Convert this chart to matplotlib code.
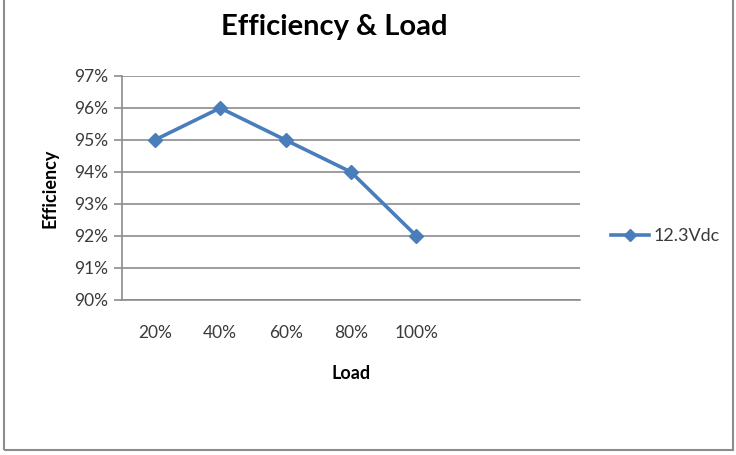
import matplotlib
matplotlib.use("Agg")
import matplotlib.pyplot as plt
from matplotlib.patches import Rectangle
from matplotlib.ticker import FuncFormatter

categories = ["20%", "40%", "60%", "80%", "100%", "", ""]
efficiency = [95, 96, 95, 94, 92]
series_name = "12.3Vdc"

plt.rcParams['font.family'] = ['Lato', 'DejaVu Sans']

W, H = 736, 455
fig = plt.figure(figsize=(W/100, H/100), dpi=100)
ax = fig.add_axes([122/W, 1-300/H, (580-122)/W, (300-76)/H])

blue = "#4A7EBB"
ax.plot(range(len(efficiency)), efficiency, color=blue, lw=2.6, marker="D",
        markersize=7.5, label=series_name, solid_joinstyle="miter")

ax.set_xlim(-0.5, len(categories)-0.5)
ax.set_ylim(90, 97)
ax.set_yticks(range(90, 98))
ax.yaxis.set_major_formatter(FuncFormatter(lambda v, p: f"{int(v)}%"))
ax.set_xticks(range(len(categories)))
ax.set_xticklabels(categories)
ax.grid(axis="y", color="#8C8C8C", lw=1.2)
ax.set_axisbelow(True)
for s in ["top", "right"]:
    ax.spines[s].set_visible(False)
for s in ["left", "bottom"]:
    ax.spines[s].set_color("#8C8C8C")
    ax.spines[s].set_linewidth(1.2)
ax.tick_params(axis="y", length=6, color="#8C8C8C", width=1.2, labelsize=12.5,
               labelcolor="#3A3A3A", pad=4)
ax.tick_params(axis="x", length=0, labelsize=12.5, labelcolor="#3A3A3A", pad=18)

ax.set_xlabel("Load", fontsize=13, fontweight="bold", labelpad=17)
ax.set_ylabel("Efficiency", fontsize=13, fontweight="bold", labelpad=11)
fig.text(334/W, 1-27/H, "Efficiency & Load", fontsize=21, fontweight="bold",
         ha="center", va="center")

leg = ax.legend(loc="center left", bbox_to_anchor=(611/W, 1-236/H),
                bbox_transform=fig.transFigure, frameon=False, fontsize=13,
                handlelength=2.1, handletextpad=0.25, borderpad=0, borderaxespad=0,
                markerscale=0.8)
for t in leg.get_texts():
    t.set_color("#3A3A3A")

fig.patches.append(Rectangle((4/W, 0 + 5/H), (733-4)/W, 1.0, transform=fig.transFigure,
                             fill=False, edgecolor="#8C8C8C", lw=1.5))

fig.savefig("out.png", dpi=100)
